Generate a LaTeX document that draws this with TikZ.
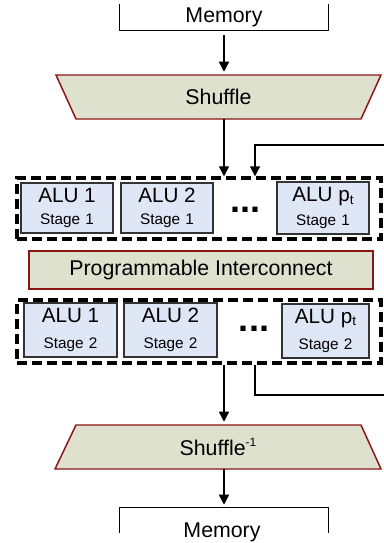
\documentclass[tikz,border=0pt]{standalone}
\usepackage{fontspec}
\setmainfont{Liberation Sans}
\usetikzlibrary{arrows.meta,calc}
\definecolor{trapfill}{HTML}{DFE1CF}
\definecolor{trapline}{HTML}{8B1515}
\definecolor{alufill}{HTML}{DFE7F6}
\definecolor{aluline}{HTML}{333333}
\newcommand\pxu{0.75pt}
\newcommand\stg[1]{{\fontsize{11.5}{13}\selectfont Stage\,\,#1}}
\newcommand\pt{p\raisebox{-0.12em}{\fontsize{10}{10}\selectfont t}}
\begin{document}
\begin{tikzpicture}[x=0.75pt,y=-0.75pt,
 arr/.style={line width=1.1pt,-{Triangle[length=7.5pt,width=7.5pt]}},
 plain/.style={line width=1.1pt},
 trap/.style={fill=trapfill,draw=trapline,line width=1.1pt},
 alu/.style={draw=aluline,fill=alufill,line width=1.1pt,inner sep=0pt,align=center,font=\fontsize{15.5}{15}\selectfont},
 grp/.style={draw,line width=2.6pt,dash pattern=on 7.5pt off 3.75pt,inner sep=0pt},
 lbl/.style={inner sep=0pt,font=\fontsize{16}{18}\selectfont},
 dotsn/.style={inner sep=0pt,font=\bfseries\fontsize{27}{27}\selectfont}]
\useasboundingbox (0,0) rectangle (384,543);

% top memory
\node[lbl,minimum width=208*\pxu,minimum height=26*\pxu] (mem1) at (224,17) {Memory};
\draw[plain] (mem1.north west) -- (mem1.south west) -- (mem1.south east) -- (mem1.north east);

% shuffle
\draw[trap] (56,75) -- (381,75) -- (361,119) -- (76,119) -- cycle;
\node[lbl,minimum width=325*\pxu,minimum height=44*\pxu] (shuf) at (218.5,97) {Shuffle};

% stage 1 group
\node[grp,minimum width=364*\pxu,minimum height=61*\pxu] (box1) at (199,208.5) {};
\node[alu,minimum width=92*\pxu,minimum height=50*\pxu] (a11) at (67,208) {ALU 1\\[1pt]\stg{1}};
\node[alu,minimum width=92*\pxu,minimum height=50*\pxu] (a21) at (167,208) {ALU 2\\[1pt]\stg{1}};
\node[dotsn] (d1) at (245.5,210) {...};
\node[alu,minimum width=92*\pxu,minimum height=52*\pxu] (ap1) at (323,208) {ALU \pt\\[3pt]\stg{1}};

% interconnect
\node[lbl,draw=trapline,fill=trapfill,line width=1.1pt,minimum width=344*\pxu,minimum height=38*\pxu] (ic) at (201,270) {Programmable Interconnect};

% stage 2 group
\node[grp,minimum width=364*\pxu,minimum height=63*\pxu] (box2) at (199,331.5) {};
\node[alu,minimum width=93*\pxu,minimum height=54*\pxu] (a12) at (70.5,330) {ALU 1\\[5pt]\stg{2}};
\node[alu,minimum width=93*\pxu,minimum height=54*\pxu] (a22) at (170.5,330) {ALU 2\\[5pt]\stg{2}};
\node[dotsn] (d2) at (254,329) {...};
\node[alu,minimum width=87*\pxu,minimum height=54*\pxu] (ap2) at (325.5,331) {ALU \pt\\[5pt]\stg{2}};

% shuffle inverse
\draw[trap] (76,425) -- (361,425) -- (381,469) -- (55,469) -- cycle;
\node[lbl,minimum width=326*\pxu,minimum height=44*\pxu] (sinv) at (218,447) {Shuffle\raisebox{0.45em}{\fontsize{9}{9}\selectfont -1}};

% bottom memory
\node[minimum width=208*\pxu,minimum height=25*\pxu,inner sep=0pt] (mem2) at (224,520.5) {};
\draw[plain] (mem2.south west) -- (mem2.north west) -- (mem2.north east) -- (mem2.south east);
\node[lbl] (mem2t) at (222,532) {Memory};

% feedback coordinates
\coordinate (fbin) at (384,145);
\coordinate (fbout) at (384,395);
\coordinate (fbx) at (255,0);

% connectors
\draw[arr,shorten <=5*\pxu,shorten >=3*\pxu] (mem1.south) -- (mem1.south |- shuf.north);
\draw[arr] (mem1.south |- shuf.south) -- (mem1.south |- box1.north);
\draw[arr] (fbin) -| (fbx |- box1.north);
\draw[arr,shorten >=3*\pxu] (mem1.south |- box2.south) -- (mem1.south |- sinv.north);
\draw[plain] (fbx |- box2.south) |- (fbout);
\draw[arr,shorten >=3*\pxu] (mem1.south |- sinv.south) -- (mem1.south |- mem2.north);
\end{tikzpicture}
\end{document}
